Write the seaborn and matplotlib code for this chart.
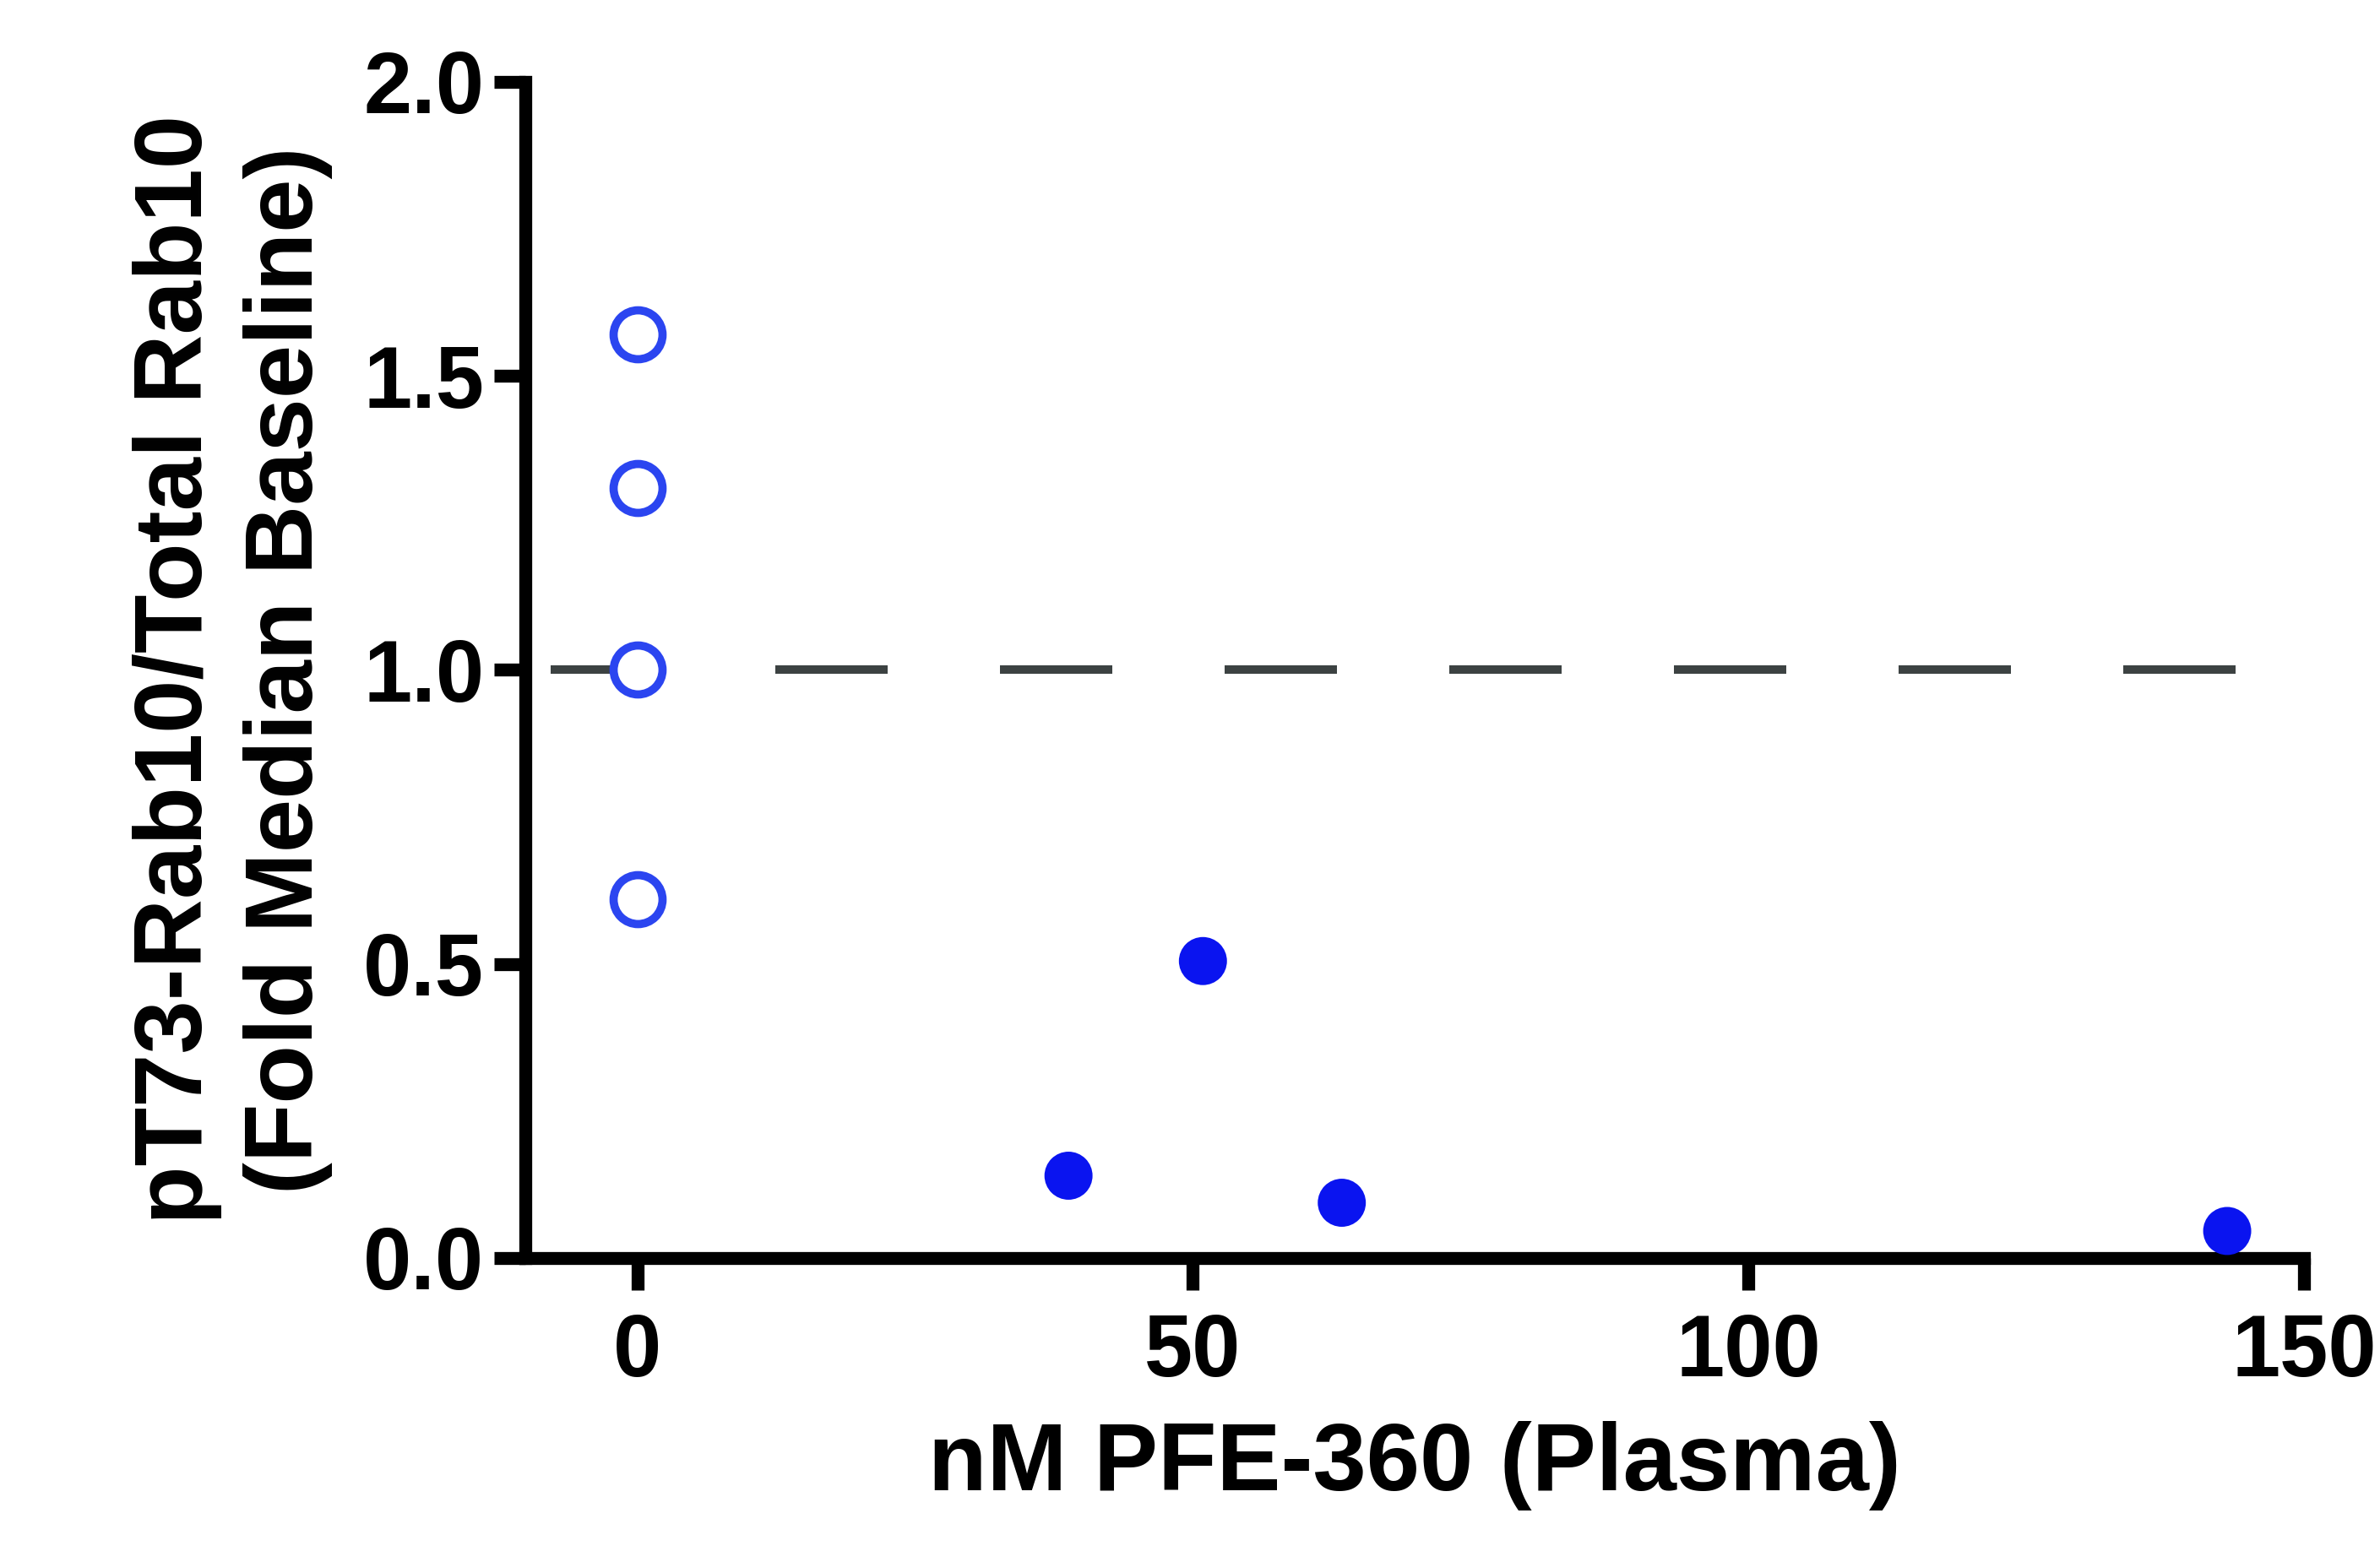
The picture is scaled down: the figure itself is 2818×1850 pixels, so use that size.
import numpy as np
import pandas as pd
import seaborn as sns
import matplotlib.pyplot as plt

# values
baseline_x = [0, 0, 0, 0]
baseline_y = [1.57, 1.31, 1.00, 0.61]
dosed_x = [38.8, 50.9, 63.4, 143.1]
dosed_y = [0.14, 0.505, 0.094, 0.046]
ref_level = 1.0
ref_span = [-7.8, 145]
xticks = [0, 50, 100, 150]
yticks = [0.0, 0.5, 1.0, 1.5, 2.0]
ytick_labels = ["0.0", "0.5", "1.0", "1.5", "2.0"]

sns.set_style("ticks")
plt.rcParams['font.family'] = ['Liberation Sans', 'DejaVu Sans']
plt.rcParams['font.weight'] = 'bold'
plt.rcParams['text.color'] = 'black'
plt.rcParams['axes.labelcolor'] = 'black'

fig = plt.figure(figsize=(28.18, 18.5), dpi=100)
ax = fig.add_axes([0.2207, 0.1946, 0.968 - 0.2207, 0.9476 - 0.1946])

# dashed baseline
ax.plot(ref_span, [ref_level, ref_level], color='#3c4242', linewidth=7.2,
        dashes=(13.3, 13.3), zorder=1)

sns.scatterplot(x=baseline_x, y=baseline_y, s=1740, color='white',
                edgecolor='#2b45f0', linewidth=7, zorder=3, clip_on=False, ax=ax)
sns.scatterplot(x=dosed_x, y=dosed_y, s=1680, color='#0a14f0',
                edgecolor='none', linewidth=0, zorder=3, clip_on=False, ax=ax)

ax.set_xlim(-10.1, 150)
ax.set_ylim(0, 2.0)
ax.set_xticks(xticks)
ax.set_yticks(yticks)
ax.set_yticklabels(ytick_labels)

sns.despine(ax=ax)
for s in ['left', 'bottom']:
    ax.spines[s].set_linewidth(11)
    ax.spines[s].set_color('black')
ax.tick_params(axis='both', length=27, width=11, labelsize=74,
               colors='black', labelcolor='black')
ax.tick_params(axis='x', pad=20)
ax.tick_params(axis='y', pad=8)

ax.set_xlabel("nM PFE-360 (Plasma)", fontsize=82, fontweight='bold',
              labelpad=22, color='black')
ax.set_ylabel("pT73-Rab10/Total Rab10\n(Fold Median Baseline)", fontsize=82,
              fontweight='bold', labelpad=26, linespacing=1.3, color='black')

fig.savefig("out.png", dpi=100)
